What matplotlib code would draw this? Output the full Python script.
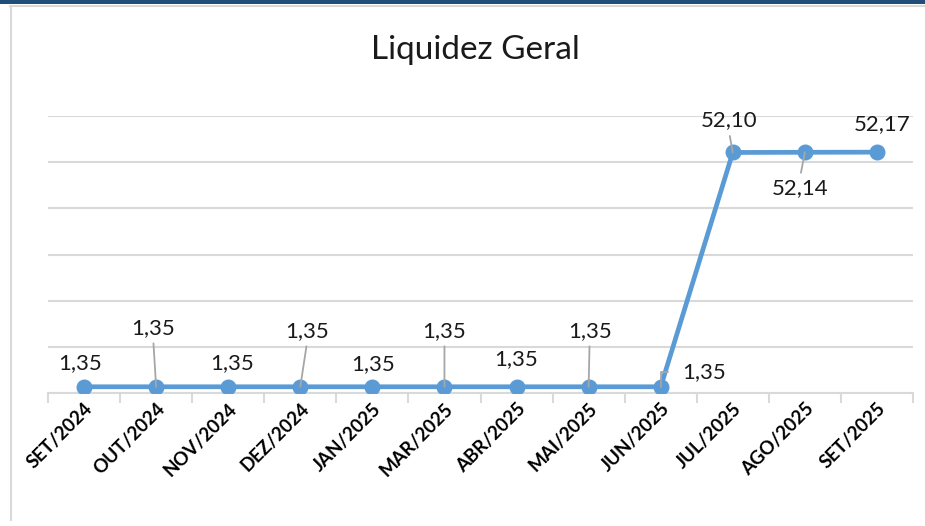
import matplotlib
matplotlib.use("Agg")
import matplotlib.pyplot as plt
from matplotlib.patches import Rectangle
from matplotlib.lines import Line2D

categories = ["SET/2024", "OUT/2024", "NOV/2024", "DEZ/2024", "JAN/2025", "MAR/2025",
              "ABR/2025", "MAI/2025", "JUN/2025", "JUL/2025", "AGO/2025", "SET/2025"]
values = [1.35, 1.35, 1.35, 1.35, 1.35, 1.35, 1.35, 1.35, 1.35, 52.10, 52.14, 52.17]
labels = ["1,35", "1,35", "1,35", "1,35", "1,35", "1,35", "1,35", "1,35", "1,35",
          "52,10", "52,14", "52,17"]

# label offsets in pixels (dx, dy) and whether a leader line is drawn
offsets = [(-4, 24), (-3, 59), (4, 24), (7, 56), (1, 23), (0, 56),
           (0, 28), (1, 56), (43, 15), (-4, 32), (-5, -36), (5, 28)]
leaders = [False, True, False, True, False, True, False, True, True, True, True, False]

W, H = 925, 526
fig = plt.figure(figsize=(W / 100, H / 100), dpi=100)
fig.patch.set_facecolor("white")

# frame decorations
fig.add_artist(Rectangle((0, 1 - 4 / H), 1, 4 / H, transform=fig.transFigure,
                         facecolor="#1f4e79", edgecolor="none"))
fig.add_artist(Line2D([10 / W, 1], [1 - 5.5 / H, 1 - 5.5 / H], transform=fig.transFigure,
                      color="#d9d9d9", lw=1.5))
fig.add_artist(Line2D([10.5 / W, 10.5 / W], [1 - 5.5 / H, 0.012], transform=fig.transFigure,
                      color="#d9d9d9", lw=1.5))

left, right, top, bottom = 48, 913, 116, 393
ax = fig.add_axes([left / W, 1 - bottom / H, (right - left) / W, (bottom - top) / H])
ax.set_facecolor("none")

x = list(range(len(categories)))
ax.plot(x, values, color="#5b9bd5", lw=3.4, marker="o", markersize=10.5,
        markerfacecolor="#5b9bd5", markeredgecolor="#5b9bd5", zorder=3,
        solid_capstyle="round")

ax.set_xlim(-0.5, len(categories) - 0.5)
ax.set_ylim(0, 60)
ax.set_yticks([0, 10, 20, 30, 40, 50, 60])
ax.yaxis.grid(True, color="#d9d9d9", lw=1.5)
ax.set_axisbelow(True)
ax.tick_params(axis="y", left=False, labelleft=False)
for s in ["left", "right", "top"]:
    ax.spines[s].set_visible(False)
ax.spines["bottom"].set_color("#d9d9d9")
ax.spines["bottom"].set_linewidth(1.5)

ax.set_xticks(x)
ax.set_xticklabels(categories, rotation=45, ha="right", va="top",
                   rotation_mode="anchor", fontsize=13.5, fontweight="bold",
                   family="Lato", color="#000000")
ax.tick_params(axis="x", which="major", length=0, pad=5)
ax.set_xticks([i - 0.5 for i in range(len(categories) + 1)], minor=True)
ax.tick_params(axis="x", which="minor", length=7, width=1.5, color="#d9d9d9")

for i, (v, lab, (dx, dy), ld) in enumerate(zip(values, labels, offsets, leaders)):
    kw = {}
    if ld:
        if dx > 30:
            kw["arrowprops"] = dict(arrowstyle="-", color="#a6a6a6", lw=1.3,
                                    shrinkA=8, shrinkB=0, relpos=(0, 0.5),
                                    connectionstyle="angle,angleA=0,angleB=90,rad=0")
        elif dy > 0:
            kw["arrowprops"] = dict(arrowstyle="-", color="#a6a6a6", lw=1.3,
                                    shrinkA=2, shrinkB=0, relpos=(0.5, 0))
        else:
            kw["arrowprops"] = dict(arrowstyle="-", color="#a6a6a6", lw=1.3,
                                    shrinkA=2, shrinkB=0, relpos=(0.5, 1))
    ax.annotate(lab, xy=(i, v), xytext=(dx, dy), textcoords="offset pixels",
                ha="center", va="center", fontsize=16, family="Lato",
                color="#1a1a1a", zorder=4, **kw)

fig.text(475 / W, 1 - 50 / H, "Liquidez Geral", ha="center", va="center",
         fontsize=24, family="Lato", color="#1a1a1a")

fig.savefig("out.png", dpi=100)
